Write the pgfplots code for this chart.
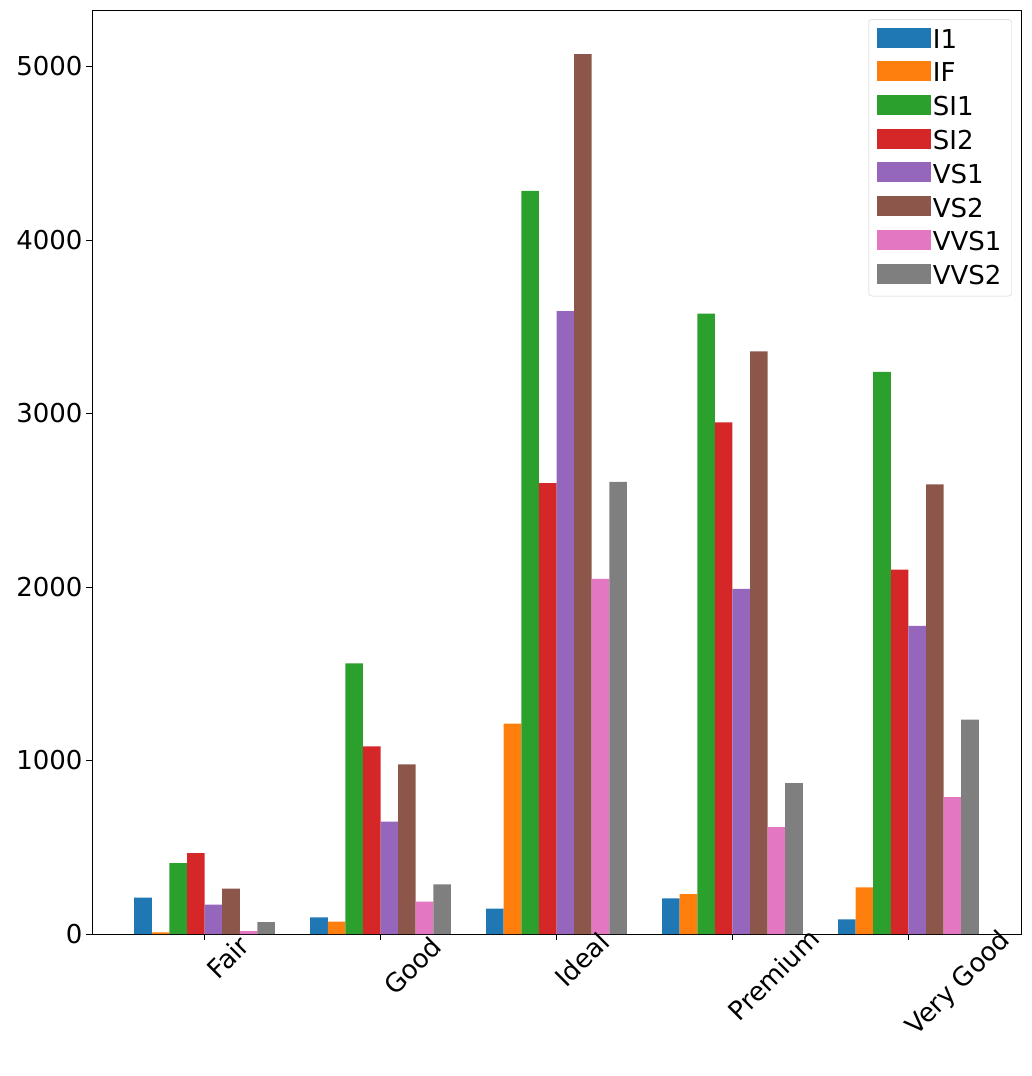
\documentclass[border=0pt]{standalone}
\usepackage{pgfplots}
\pgfplotsset{compat=1.18}
\usepackage{fontspec}
\setmainfont{DejaVu Sans}
\definecolor{c0}{HTML}{1F77B4}\definecolor{c1}{HTML}{FF7F0E}\definecolor{c2}{HTML}{2CA02C}\definecolor{c3}{HTML}{D62728}
\definecolor{c4}{HTML}{9467BD}\definecolor{c5}{HTML}{8C564B}\definecolor{c6}{HTML}{E377C2}\definecolor{c7}{HTML}{7F7F7F}
\begin{document}
\begin{tikzpicture}
\begin{axis}[
  width=929pt, height=924pt, scale only axis, clip=false,
  xmin=-0.64, xmax=4.64, ymin=0, ymax=5325,
  ybar=0pt, bar width=0.1,
  xtick={0,1,2,3,4}, xticklabels={},
  ytick={0,1000,2000,3000,4000,5000},
  tick align=outside, tick style={black, line width=0.8pt}, major tick length=6pt,
  xtick pos=bottom, ytick pos=left,
  ticklabel style={font=\fontsize{26}{30}\selectfont},
  /pgf/number format/assume math mode=true,
  /pgf/number format/1000 sep={},
  legend style={at={(0.99,0.99)}, anchor=north east, font=\fontsize{26}{30}\selectfont, draw=black!20, rounded corners=3pt, row sep=9pt, inner xsep=8pt, inner ysep=8pt, /tikz/every even column/.style={column sep=18pt}},
  legend image code/.code={\fill[#1, sharp corners] (0pt,-8pt) rectangle (54pt,12pt);},
  legend cell align=left,
]
\addplot[fill=c0,draw=none] coordinates {(0,210)(1,96)(2,146)(3,205)(4,84)};
\addplot[fill=c1,draw=none] coordinates {(0,9)(1,71)(2,1212)(3,230)(4,268)};
\addplot[fill=c2,draw=none] coordinates {(0,408)(1,1560)(2,4282)(3,3575)(4,3240)};
\addplot[fill=c3,draw=none] coordinates {(0,466)(1,1081)(2,2598)(3,2949)(4,2100)};
\addplot[fill=c4,draw=none] coordinates {(0,170)(1,648)(2,3589)(3,1989)(4,1775)};
\addplot[fill=c5,draw=none] coordinates {(0,261)(1,978)(2,5071)(3,3357)(4,2591)};
\addplot[fill=c6,draw=none] coordinates {(0,17)(1,186)(2,2047)(3,616)(4,789)};
\addplot[fill=c7,draw=none] coordinates {(0,69)(1,286)(2,2606)(3,870)(4,1235)};
\legend{I1,IF,SI1,SI2,VS1,VS2,VVS1,VVS2}
\path (axis cs:0,0) node[rotate=45, yshift=-33pt, font=\fontsize{26}{30}\selectfont] {Fair};
\path (axis cs:1,0) node[rotate=45, yshift=-45pt, font=\fontsize{26}{30}\selectfont] {Good};
\path (axis cs:2,0) node[rotate=45, yshift=-36pt, font=\fontsize{26}{30}\selectfont] {Ideal};
\path (axis cs:3,0) node[rotate=45, yshift=-58pt, font=\fontsize{26}{30}\selectfont] {Premium};
\path (axis cs:4,0) node[rotate=45, yshift=-71pt, font=\fontsize{26}{30}\selectfont] {Very Good};
\end{axis}
\pgfresetboundingbox
\path ([shift={(-92pt,-142pt)}]current axis.south west) rectangle ([shift={(10pt,10pt)}]current axis.north east);
\end{tikzpicture}
\end{document}
